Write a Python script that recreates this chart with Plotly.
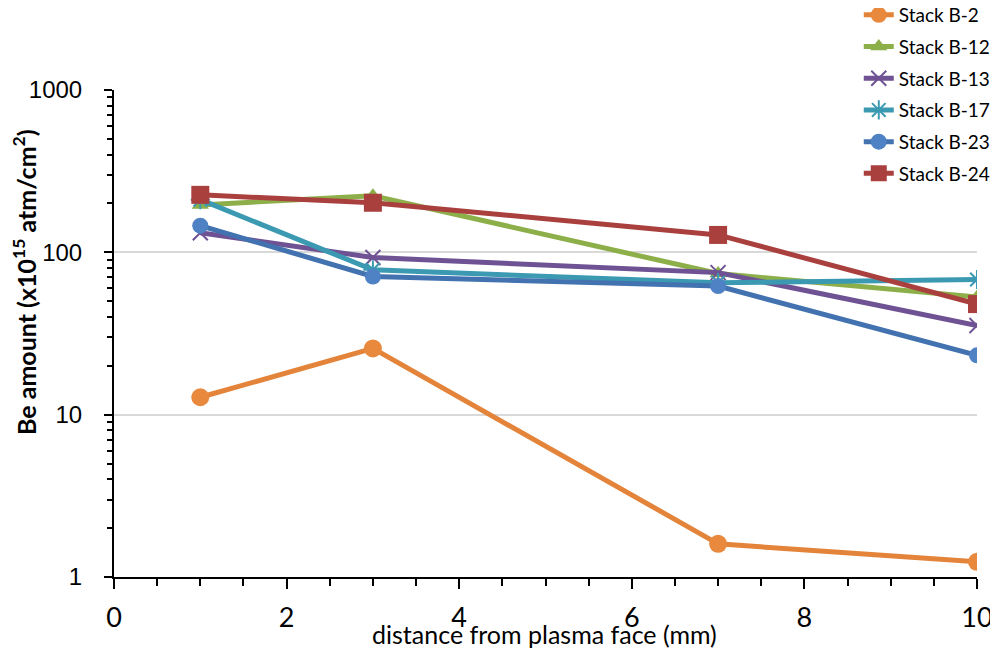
import plotly.graph_objects as go

distance = [1, 3, 7, 10]
series_names = ["Stack B-2", "Stack B-12", "Stack B-13", "Stack B-17", "Stack B-23", "Stack B-24"]
b2 = [12.8, 25.6, 1.6, 1.24]
b12 = [196, 223, 74, 53]
b13 = [132, 93, 75, 35.4]
b17 = [211, 78, 65, 68]
b23 = [146, 71, 62, 23.2]
b24 = [226, 202, 128, 48]
values = [b2, b12, b13, b17, b23, b24]

colors = ["#E3843A", "#8DAF4A", "#6E5293", "#3B9AB2", "#4272AF", "#A9403E"]
marker_colors = ["#E8893E", "#8DAF4A", "#6E5293", "#3B9AB2", "#4E82C4", "#A9403E"]
symbols = ["circle", "triangle-up", "x-thin", "asterisk", "circle", "square"]
sizes = [18, 15, 15, 16, 16, 18]

fig = go.Figure()
for i, (name, vals) in enumerate(zip(series_names, values)):
    mk = dict(symbol=symbols[i], size=sizes[i], color=marker_colors[i])
    if symbols[i] in ("x-thin", "asterisk"):
        mk["line"] = dict(color=marker_colors[i], width=2)
    fig.add_trace(go.Scatter(
        x=distance, y=vals, name=name, mode="lines+markers",
        line=dict(color=colors[i], width=5), marker=mk,
        legendgroup=name,
    ))

fig.update_layout(
    width=998, height=648,
    margin=dict(l=106, r=29, t=82, b=79, autoexpand=False),
    plot_bgcolor="white", paper_bgcolor="white",
    font=dict(family="Lato, Liberation Sans, sans-serif", color="#000"),
    legend=dict(x=0.863, y=1.193, xref="paper", yref="paper", xanchor="left", yanchor="top",
                font=dict(size=19), traceorder="grouped", tracegroupgap=4,
                bgcolor="rgba(0,0,0,0)"),
    showlegend=True,
)
fig.update_xaxes(range=[0, 10], dtick=2, showgrid=False, showline=True, automargin=False,
                 linecolor="black", linewidth=2, ticks="outside", ticklen=10,
                 tickwidth=2, tickcolor="black", ticklabelstandoff=6,
                 minor=dict(dtick=0.5, ticks="outside", ticklen=7, tickwidth=1.5, tickcolor="black"),
                 tickfont=dict(size=27), zeroline=False)
fig.update_yaxes(type="log", range=[0, 3], showgrid=True, gridcolor="#D9D9D9", gridwidth=2,
                 showline=True, linecolor="black", linewidth=2, ticks="outside", ticklen=8,
                 tickwidth=2, tickcolor="black", tickvals=[1, 10, 100, 1000], automargin=False,
                 ticktext=["1", "10", "100", "1000"], ticklabelstandoff=17,
                 minor=dict(tickvals=[2, 3, 4, 5, 6, 7, 8, 9, 20, 30, 40, 50, 60, 70, 80, 90,
                                      200, 300, 400, 500, 600, 700, 800, 900],
                            ticks="outside", ticklen=5, tickwidth=1.5, tickcolor="black",
                            showgrid=False),
                 tickfont=dict(size=24, family="Liberation Sans, Arial, sans-serif"), zeroline=False)

fig.add_annotation(text="<b>Be amount (x10<sup>15</sup> atm/cm<sup>2</sup>)</b>", xref="paper", yref="paper",
                   x=-0.103, y=0.606, xanchor="center", yanchor="middle", textangle=-90,
                   showarrow=False, font=dict(size=25, family="Lato, Liberation Sans, sans-serif"))
fig.add_annotation(text="distance from plasma face (mm)", xref="paper", yref="paper",
                   x=0.4994, y=-0.117, xanchor="center", yanchor="middle", showarrow=False,
                   font=dict(size=25))

fig.write_html("out.html")
